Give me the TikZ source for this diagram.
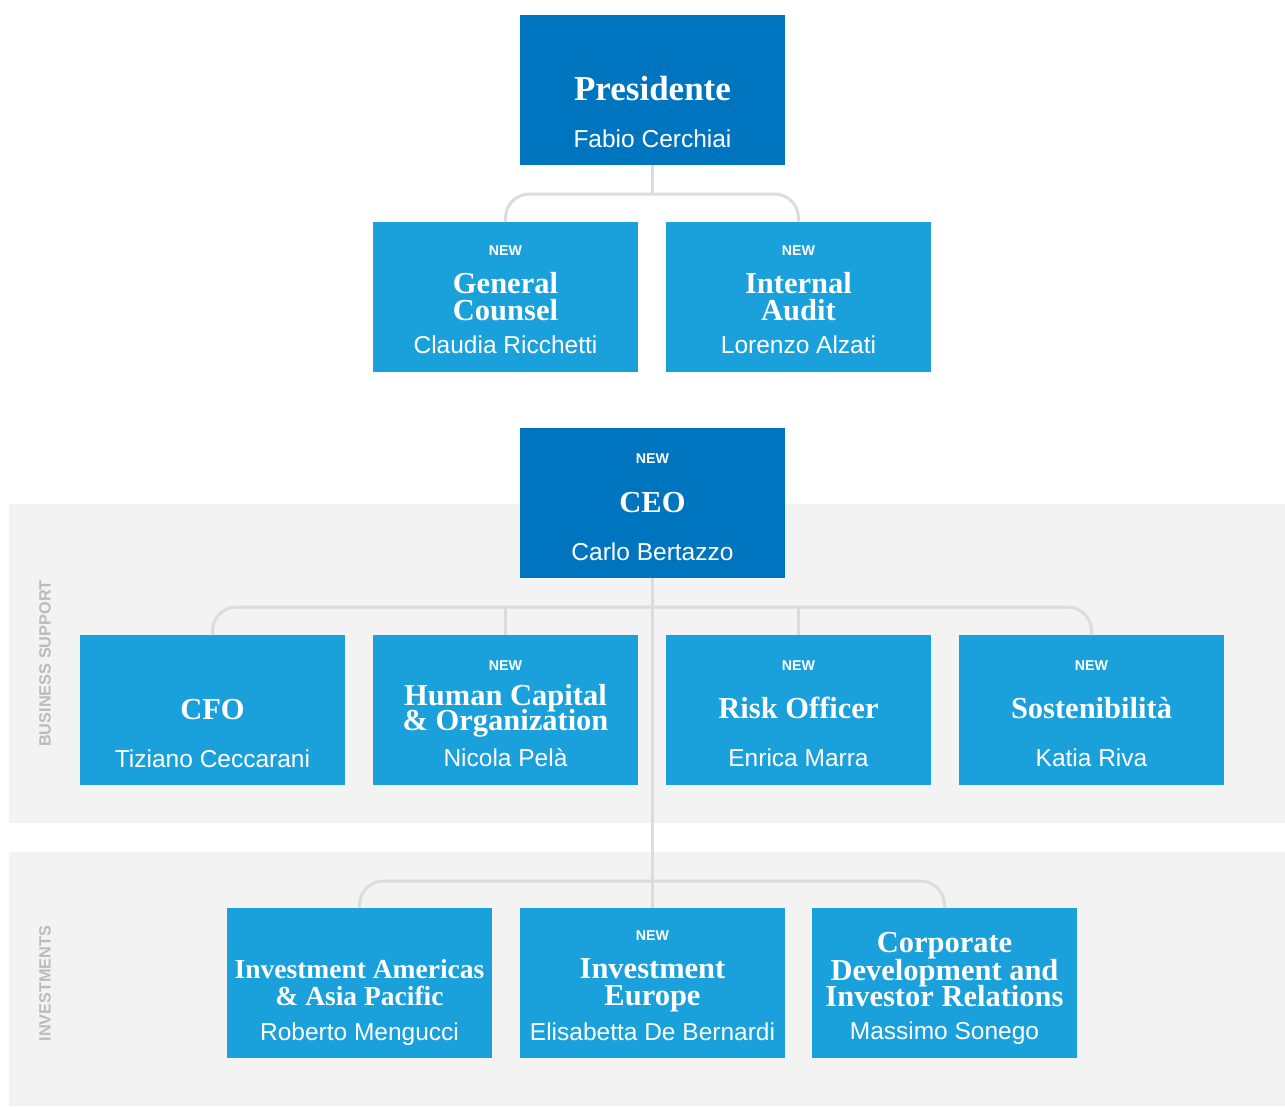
\documentclass[tikz,border=0pt]{standalone}
\usepackage{fontspec}
\setmainfont{Liberation Serif}
\setsansfont{Liberation Sans}
\definecolor{darkblue}{HTML}{0075BF}
\definecolor{lightblue}{HTML}{1AA0DB}
\definecolor{bandgrey}{HTML}{F3F3F3}
\definecolor{conngrey}{HTML}{DCDCDC}
\definecolor{sidegrey}{HTML}{BBBBBB}
\newcommand\boxline[5]{\node[#4] (#1) at ([yshift=-#3pt]#2.north) {#5};}
\tikzset{
  orgbox/.style={rectangle, minimum width=265pt, minimum height=150pt, inner sep=0pt, outer sep=0pt, anchor=north west},
  darkbox/.style={orgbox, fill=darkblue},
  lightbox/.style={orgbox, fill=lightblue},
  newlbl/.style={anchor=base, text=white, inner sep=0pt, font=\sffamily\bfseries\fontsize{14.2}{15}\selectfont},
  ttl/.style={anchor=base, text=white, inner sep=0pt, font=\rmfamily\bfseries\fontsize{30.5}{31}\selectfont},
  bigttl/.style={ttl, font=\rmfamily\bfseries\fontsize{35}{35}\selectfont},
  smallttl/.style={ttl, font=\rmfamily\bfseries\fontsize{27.5}{28}\selectfont},
  nm/.style={anchor=base, text=white, inner sep=0pt, font=\sffamily\fontsize{24.5}{25}\selectfont},
  connector/.style={draw=conngrey, line width=3pt, rounded corners=24pt},
  band/.style={fill=bandgrey, draw=none},
  side/.style={rotate=90, text=sidegrey, inner sep=0pt, font=\sffamily\bfseries\fontsize{16.3}{17}\selectfont}
}
\begin{document}
\begin{tikzpicture}[x=1pt, y=-1pt]
\useasboundingbox (0,0) rectangle (1285,1106);
\fill[white] (0,0) rectangle (1285,1106);
% bands
\path[band] (9,504) rectangle (1285,823);
\path[band] (9,852) rectangle (1285,1106);
\node[side] (lblbs) at (45,663.5) {BUSINESS SUPPORT};
\node[side] (lblinv) at (45,983.5) {INVESTMENTS};
% boxes
\node[darkbox] (pres) at (520,15) {};
\node[lightbox] (gc) at (373,222) {};
\node[lightbox] (ia) at (666,222) {};
\node[darkbox] (ceo) at (520,428) {};
\node[lightbox] (cfo) at (80,635) {};
\node[lightbox] (hc) at (373,635) {};
\node[lightbox] (risk) at (666,635) {};
\node[lightbox] (sost) at (959,635) {};
\node[lightbox] (iaap) at (227,908) {};
\node[lightbox] (ie) at (520,908) {};
\node[lightbox] (cdir) at (812,908) {};
% connectors
\coordinate (j1) at (652.5,194);
\coordinate (j2) at (652.5,607);
\coordinate (j3) at (652.5,881);
\draw[connector] (gc.north) -- (gc.north |- j1) -- (ia.north |- j1) -- (ia.north);
\draw[connector] (pres.south) -- (j1);
\draw[connector] (cfo.north) -- (cfo.north |- j2) -- (sost.north |- j2) -- (sost.north);
\draw[connector] (hc.north) -- (hc.north |- j2);
\draw[connector] (risk.north) -- (risk.north |- j2);
\draw[connector] (ceo.south) -- (ie.north);
\draw[connector] (iaap.north) -- (iaap.north |- j3) -- (cdir.north |- j3) -- (cdir.north);
% texts
\boxline{presT}{pres}{85}{bigttl}{Presidente}
\boxline{presN}{pres}{132}{nm}{Fabio Cerchiai}
\boxline{gcX}{gc}{33}{newlbl}{NEW}
\boxline{gcT1}{gc}{71}{ttl}{General}
\boxline{gcT2}{gc}{98}{ttl}{Counsel}
\boxline{gcN}{gc}{131}{nm}{Claudia Ricchetti}
\boxline{iaX}{ia}{33}{newlbl}{NEW}
\boxline{iaT1}{ia}{71}{ttl}{Internal}
\boxline{iaT2}{ia}{98}{ttl}{Audit}
\boxline{iaN}{ia}{131}{nm}{Lorenzo Alzati}
\boxline{ceoX}{ceo}{35}{newlbl}{NEW}
\boxline{ceoT}{ceo}{84}{ttl}{CEO}
\boxline{ceoN}{ceo}{132}{nm}{Carlo Bertazzo}
\boxline{cfoT}{cfo}{84}{ttl}{CFO}
\boxline{cfoN}{cfo}{132}{nm}{Tiziano Ceccarani}
\boxline{hcX}{hc}{35}{newlbl}{NEW}
\boxline{hcT1}{hc}{70}{ttl}{Human Capital}
\boxline{hcT2}{hc}{95}{ttl}{\& Organization}
\boxline{hcN}{hc}{131}{nm}{Nicola Pelà}
\boxline{riskX}{risk}{35}{newlbl}{NEW}
\boxline{riskT}{risk}{83}{ttl}{Risk Officer}
\boxline{riskN}{risk}{131}{nm}{Enrica Marra}
\boxline{sostX}{sost}{35}{newlbl}{NEW}
\boxline{sostT}{sost}{83}{ttl}{Sostenibilità}
\boxline{sostN}{sost}{131}{nm}{Katia Riva}
\boxline{iaapT1}{iaap}{70}{smallttl}{Investment Americas}
\boxline{iaapT2}{iaap}{97}{smallttl}{\& Asia Pacific}
\boxline{iaapN}{iaap}{132}{nm}{Roberto Mengucci}
\boxline{ieX}{ie}{32}{newlbl}{NEW}
\boxline{ieT1}{ie}{70}{ttl}{Investment}
\boxline{ieT2}{ie}{97}{ttl}{Europe}
\boxline{ieN}{ie}{132}{nm}{Elisabetta De Bernardi}
\boxline{cdirT1}{cdir}{44}{ttl}{Corporate}
\boxline{cdirT2}{cdir}{72}{ttl}{Development and}
\boxline{cdirT3}{cdir}{98}{ttl}{Investor Relations}
\boxline{cdirN}{cdir}{131}{nm}{Massimo Sonego}
\end{tikzpicture}
\end{document}
